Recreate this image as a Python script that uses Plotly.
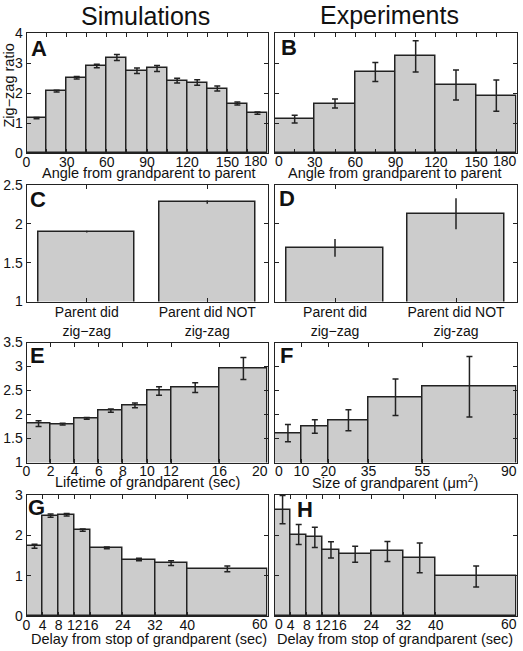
import plotly.graph_objects as go

W, H = 523, 651

# ---------------- data ----------------
a_edges = [0, 15, 30, 45, 60, 75, 90, 105, 120, 135, 150, 165, 180]
a_vals = [1.16, 2.06, 2.51, 2.90, 3.18, 2.74, 2.82, 2.41, 2.35, 2.15, 1.65, 1.33]
a_errs = [0.02, 0.03, 0.04, 0.06, 0.10, 0.09, 0.10, 0.08, 0.09, 0.08, 0.05, 0.04]

b_edges = [0, 30, 60, 90, 120, 150, 180]
b_vals = [1.13, 1.65, 2.70, 3.22, 2.27, 1.91]
b_errs = [0.13, 0.15, 0.32, 0.52, 0.50, 0.52]

angle_ticks = [0, 15, 30, 45, 60, 75, 90, 105, 120, 135, 150, 165, 180]
angle_labels = ["0", "", "30", "", "60", "", "90", "", "120", "", "150", "", "180"]

cd_cats = ["Parent did<br>zig−zag", "Parent did NOT<br>zig-zag"]
c_vals = [1.90, 2.28]
c_errs = [0.012, 0.02]
d_vals = [1.69, 2.13]
d_errs = [0.115, 0.20]

e_edges = [0, 2, 4, 6, 8, 10, 12, 16, 20]
e_vals = [1.81, 1.80, 1.92, 2.08, 2.19, 2.49, 2.56, 2.96]
e_errs = [0.06, 0.02, 0.02, 0.035, 0.05, 0.09, 0.10, 0.23]

f_edges = [0, 10, 20, 35, 55, 90]
f_vals = [1.61, 1.75, 1.88, 2.36, 2.58]
f_errs = [0.18, 0.14, 0.22, 0.38, 0.63]

gh_edges = [0, 4, 8, 12, 16, 24, 32, 40, 60]
g_vals = [1.73, 2.49, 2.51, 2.13, 1.69, 1.40, 1.31, 1.17]
g_errs = [0.05, 0.04, 0.03, 0.03, 0.02, 0.03, 0.06, 0.07]
h_vals = [2.64, 2.02, 1.95, 1.64, 1.53, 1.60, 1.44, 0.98]
h_errs = [0.35, 0.25, 0.25, 0.20, 0.20, 0.25, 0.37, 0.26]

# ---------------- styling ----------------
FONT = "Liberation Sans, Arial, sans-serif"
BAR_FILL = "#cccccc"
EDGE = "#222222"
TXT = "#111111"
TICKFS = 14
TITLEFS = 14.5

cols_px = {"L": (26.5, 267.5), "R": (274.5, 516.5)}
rows_px = [(33, 153), (185, 301.5), (342.5, 462.5), (495, 616)]


def px_x(v):
    return v / W


def px_y(v):
    return 1 - v / H


def axref(letter, idx):
    return letter if idx == "1" else letter + idx


fig = go.Figure()
annotations = []


def hist_trace(edges, vals, errs, ax):
    centers = [(edges[i] + edges[i + 1]) / 2 for i in range(len(vals))]
    widths = [edges[i + 1] - edges[i] for i in range(len(vals))]
    return go.Bar(
        x=centers, y=vals, width=widths,
        marker=dict(color=BAR_FILL, line=dict(color=EDGE, width=1.5)),
        error_y=dict(type="data", array=errs, visible=True,
                     color=EDGE, thickness=1.5, width=3),
        xaxis=axref("x", ax), yaxis=axref("y", ax), showlegend=False, hoverinfo="skip",
    )


def cat_trace(vals, errs, ax):
    return go.Bar(
        x=[1, 2], y=vals, width=[0.8, 0.8],
        marker=dict(color=BAR_FILL, line=dict(color=EDGE, width=1.5)),
        error_y=dict(type="data", array=errs, visible=True,
                     color=EDGE, thickness=1.5, width=0),
        xaxis=axref("x", ax), yaxis=axref("y", ax), showlegend=False, hoverinfo="skip",
    )


def edge_tick_annotations(idx, ticks, labels, col):
    """MATLAB-like: last label right-aligned at the axis end, first label of the
    right-hand column left-aligned at the axis start. Drawn via the x axis."""
    out = list(labels)
    specs = [(ticks[-1], out[-1], "right")]
    out[-1] = ""
    if col == "R":
        specs.append((ticks[0], out[0], "left"))
        out[0] = ""
    for xv, txt, anc in specs:
        annotations.append(dict(
            text=txt, x=xv, xref=axref("x", idx), y=0,
            yref=axref("y", idx) + " domain",
            xanchor=anc, yanchor="middle", yshift=-8, showarrow=False,
            borderpad=0, borderwidth=0,
            font=dict(family=FONT, size=TICKFS, color=TXT)))
    return out


e_labels = [str(v) for v in e_edges]
f_labels = [str(v) for v in f_edges]
gh_labels = [str(v) for v in gh_edges]

panels = [
    ("1", "L", 0, hist_trace(a_edges, a_vals, a_errs, "1"), [0, 180], angle_ticks, angle_labels, [0, 4], [0, 1, 2, 3, 4]),
    ("2", "R", 0, hist_trace(b_edges, b_vals, b_errs, "2"), [0, 180], angle_ticks, angle_labels, [0, 4], [0, 1, 2, 3, 4]),
    ("3", "L", 1, cat_trace(c_vals, c_errs, "3"), [0.5, 2.5], [1, 2], cd_cats, [1, 2.5], [1, 1.5, 2, 2.5]),
    ("4", "R", 1, cat_trace(d_vals, d_errs, "4"), [0.5, 2.5], [1, 2], cd_cats, [1, 2.5], [1, 1.5, 2, 2.5]),
    ("5", "L", 2, hist_trace(e_edges, e_vals, e_errs, "5"), [0, 20], e_edges, e_labels, [1, 3.5], [1, 1.5, 2, 2.5, 3, 3.5]),
    ("6", "R", 2, hist_trace(f_edges, f_vals, f_errs, "6"), [0, 90], f_edges, f_labels, [1, 3.5], [1, 1.5, 2, 2.5, 3, 3.5]),
    ("7", "L", 3, hist_trace(gh_edges, g_vals, g_errs, "7"), [0, 60], gh_edges, gh_labels, [0, 3], [0, 1, 2, 3]),
    ("8", "R", 3, hist_trace(gh_edges, h_vals, h_errs, "8"), [0, 60], gh_edges, gh_labels, [0, 3], [0, 1, 2, 3]),
]

layout_axes = {}
for idx, col, row, tr, xr, xt, xl, yr, yt in panels:
    fig.add_trace(tr)
    x0, x1 = cols_px[col]
    top, bot = rows_px[row]
    sfx = "" if idx == "1" else idx
    is_cat = row == 1
    if not is_cat:
        xl = edge_tick_annotations(idx, xt, xl, col)
    common = dict(showline=True, linecolor=EDGE, linewidth=1, mirror="ticks",
                  ticks="inside", ticklen=4, tickwidth=1, tickcolor=EDGE,
                  showgrid=False, zeroline=False, automargin=False,
                  tickfont=dict(family=FONT, size=TICKFS, color=TXT))
    layout_axes["xaxis" + sfx] = dict(
        domain=[px_x(x0), px_x(x1)], range=xr, anchor=axref("y", idx),
        tickmode="array", tickvals=xt, ticktext=xl, tickangle=0,
        ticklabelstandoff=(-2 if is_cat else -4), **common)
    yfmt = dict(tickmode="array", tickvals=yt,
                ticktext=[("%g" % v) for v in yt])
    layout_axes["yaxis" + sfx] = dict(
        domain=[px_y(bot), px_y(top)], range=yr, anchor=axref("x", idx),
        showticklabels=(col == "L"), **yfmt, **common)


def ann(text, x, y, size, bold=False, xanchor="center", angle=0):
    annotations.append(dict(
        text=("<b>%s</b>" % text) if bold else text,
        x=px_x(x), y=px_y(y), xref="paper", yref="paper",
        xanchor=xanchor, yanchor="middle", showarrow=False, textangle=angle,
        borderpad=0, borderwidth=0,
        font=dict(family=FONT, size=size, color=TXT)))


ann("Simulations", 145, 15.5, 25)
ann("Experiments", 389, 15, 25)

letters = [("A", 30.5, 48), ("B", 280.5, 47.5), ("C", 30, 199), ("D", 279, 198.5),
           ("E", 29.5, 355.5), ("F", 280, 355.5), ("G", 28, 507.5), ("H", 296.5, 509)]
for t, x, y in letters:
    ann(t, x, y, 22, bold=True, xanchor="left")

ann("Angle from grandparent to parent", 149, 173, TITLEFS)
ann("Angle from grandparent to parent", 395.5, 173, TITLEFS)
ann("Lifetime of grandparent (sec)", 147, 482, TITLEFS)
ann("Size of grandparent (μm<sup>2</sup>)", 395.5, 482, TITLEFS)
ann("Delay from stop of grandparent (sec)", 149, 638.5, TITLEFS)
ann("Delay from stop of grandparent (sec)", 395.5, 638.5, TITLEFS)
ann("Zig−zag ratio", 8.5, 86, TITLEFS, angle=-90)

fig.update_layout(
    width=W, height=H, autosize=False,
    margin=dict(l=0, r=0, t=0, b=0),
    paper_bgcolor="white", plot_bgcolor="rgba(0,0,0,0)",
    bargap=0, annotations=annotations,
    font=dict(family=FONT, color=TXT),
    **layout_axes,
)

fig.write_html(
    "out.html",
    config={"displayModeBar": False},
    post_script="document.body.style.margin='0px';"
                "document.body.style.overflow='hidden';",
)
